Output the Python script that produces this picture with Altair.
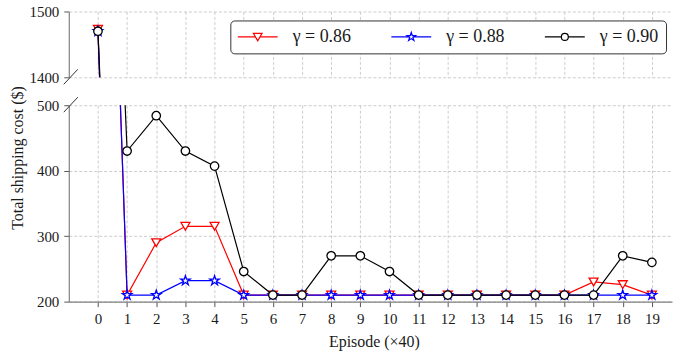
import altair as alt
import pandas as pd

# Episode index (one unit = 40 training episodes)
episodes = list(range(20))

# Total shipping cost per discount factor
cost_g086 = [1473, 210, 290, 315, 315, 210, 210, 210, 210, 210,
             210, 210, 210, 210, 210, 210, 210, 230, 226, 210]
cost_g088 = [1470, 210, 210, 232, 232, 210, 210, 210, 210, 210,
             210, 210, 210, 210, 210, 210, 210, 210, 210, 210]
cost_g090 = [1470, 430, 484, 430, 407, 246, 210, 210, 270, 270,
             246, 210, 210, 210, 210, 210, 210, 210, 270, 260]

series_labels = ["γ = 0.86", "γ = 0.88", "γ = 0.90"]
series_colors = ["#ff0000", "#0000ff", "#000000"]

# five-pointed star on the unit circle
STAR = ("M0,-1L0.225,-0.309L0.951,-0.309L0.363,0.118L0.588,0.809L0,0.382"
        "L-0.588,0.809L-0.363,0.118L-0.951,-0.309L-0.225,-0.309Z")
marker_shapes = ["triangle-down", STAR, "circle"]
marker_sizes = [80, 100, 72]

# legend keys: a short line with the marker in the middle
legend_glyphs = [
    "M-2.667,0H-0.307M0.307,0H2.667M-0.58,-0.47H0.58L0,0.53Z",
    "M-2.667,0H-0.315M0.315,0H2.667M0,-0.6L0.135,-0.185L0.571,-0.185L0.218,0.071"
    "L0.353,0.485L0,0.229L-0.353,0.485L-0.218,0.071L-0.571,-0.185L-0.135,-0.185Z",
    "M-2.667,0H-0.467M0.467,0H2.667M0.467,0A0.467,0.467,0,1,1,-0.467,0"
    "A0.467,0.467,0,1,1,0.467,0Z",
]

rows = []
for label, values in zip(series_labels, [cost_g086, cost_g088, cost_g090]):
    for ep, v in zip(episodes, values):
        rows.append({"episode": ep, "cost": v, "series": label})
df = pd.DataFrame(rows)

FONT = "Liberation Serif"
PLOT_W = 605
x_scale = alt.Scale(domain=[-1, 19.69], nice=False, zero=False)


def panel(y_domain, height, y_ticks, bottom):
    y_scale = alt.Scale(domain=y_domain, nice=False, zero=False)
    if bottom:
        x_axis = alt.Axis(values=episodes, format="d", title="Episode (×40)",
                          titlePadding=7, titleX=306, titleAnchor="start",
                          titleAlign="center")
        y_axis = alt.Axis(values=y_ticks, format="d", title="Total shipping cost ($)",
                          titleX=-46, titleY=52.5, titleBaseline="alphabetic",
                          titleAlign="center")
    else:
        x_axis = alt.Axis(values=episodes, title=None, labels=False, ticks=False,
                          domain=False)
        y_axis = alt.Axis(values=y_ticks, format="d", title=None)

    base = alt.Chart(df)
    x_enc = alt.X("episode:Q", scale=x_scale, axis=x_axis)
    y_enc = alt.Y("cost:Q", scale=y_scale, axis=y_axis)

    layers = []
    for label, color, shape, size in zip(series_labels, series_colors,
                                         marker_shapes, marker_sizes):
        sub = base.transform_filter(alt.datum.series == label)
        layers.append(
            sub.mark_line(color=color, strokeWidth=1.2, clip=True)
            .encode(x=x_enc, y=y_enc)
        )
        layers.append(
            sub.mark_point(shape=shape, size=size, filled=True, fill="white",
                           stroke=color, strokeWidth=1.3, opacity=1, clip=True)
            .encode(x=x_enc, y=y_enc)
        )

    # diagonal break marks where the axis is cut
    cut = alt.Chart(pd.DataFrame({"k": [0]}))
    if bottom:
        layers.append(cut.mark_rule(color="#333333", strokeWidth=1).encode(
            x=alt.value(-5), x2=alt.value(9), y=alt.value(7), y2=alt.value(-8)))
    else:
        layers.append(cut.mark_rule(color="#333333", strokeWidth=1).encode(
            x=alt.value(-5), x2=alt.value(9), y=alt.value(height + 7),
            y2=alt.value(height - 8)))
        # legend carrier: no rows survive the filter, only the legend is drawn
        key = base.transform_filter("datum.cost < 0").mark_point(
            filled=False, size=225, strokeWidth=1.2, opacity=1
        ).encode(
            x=x_enc, y=y_enc,
            color=alt.Color("series:N",
                            scale=alt.Scale(domain=series_labels, range=series_colors),
                            legend=alt.Legend(title=None)),
            shape=alt.Shape("series:N",
                            scale=alt.Scale(domain=series_labels, range=legend_glyphs),
                            legend=alt.Legend(title=None)),
        )
        layers.append(key)

    return alt.layer(*layers).properties(width=PLOT_W, height=height)


top = panel([1400, 1500], 66, [1400, 1500], bottom=False)
bottom = panel([200, 500], 197, [200, 300, 400, 500], bottom=True)

chart = (
    alt.vconcat(top, bottom, spacing=28, bounds="flush")
    .properties(padding={"left": 9, "top": 3, "right": 0, "bottom": 0},
                background="white")
    .configure(font=FONT)
    .configure_view(stroke="transparent")
    .configure_axis(
        labelFont=FONT, labelFontSize=15, labelColor="#1a1a1a", labelPadding=5,
        titleFont=FONT, titleFontSize=16, titleFontWeight="normal", titleColor="#1a1a1a",
        domainColor="#808080", domainWidth=1.2,
        tickColor="#555555", tickSize=5, tickWidth=1,
        gridColor="#c0c0c0", gridDash=[3, 2], gridWidth=0.8,
    )
    .configure_legend(
        orient="none", legendX=162, legendY=9, direction="horizontal",
        labelFont=FONT, labelFontSize=18, labelColor="#1a1a1a",
        symbolSize=225, symbolStrokeWidth=1.2, symbolOffset=11, labelOffset=26,
        columnPadding=37, padding=7.5, fillColor="white", strokeColor="#333333",
        cornerRadius=4,
    )
)

chart.save("out.html", embed_options={"renderer": "svg", "actions": False})
